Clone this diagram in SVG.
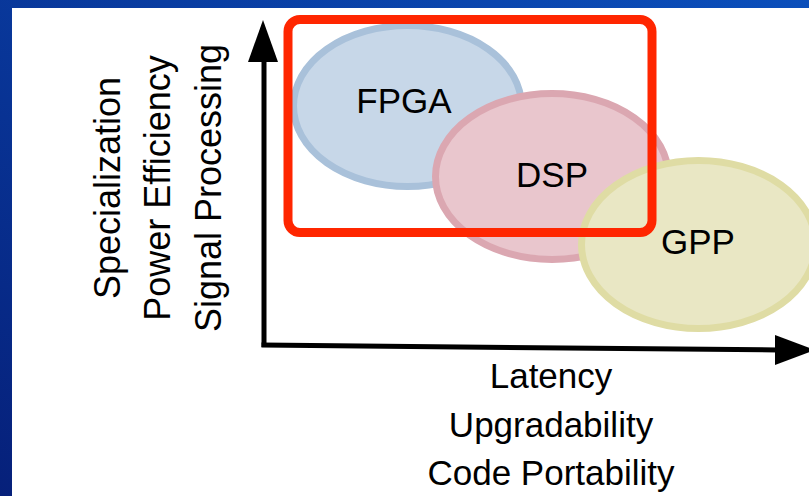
<svg xmlns="http://www.w3.org/2000/svg" width="809" height="496" viewBox="0 0 809 496">
  <defs>
    <linearGradient id="bg" x1="1" y1="0" x2="0" y2="1">
      <stop offset="0" stop-color="#0b4fbb"/>
      <stop offset="1" stop-color="#06207a"/>
    </linearGradient>
    <style>
      .lbl { font-family: "Liberation Sans", Arial, sans-serif; font-size: 35px; fill: #000; text-anchor: middle; }
      .vlbl { font-family: "Liberation Sans", Arial, sans-serif; font-size: 36px; fill: #000; text-anchor: middle; }
      .axis { stroke: #000; stroke-width: 5; fill: none; }
    </style>
  </defs>
  <rect x="0" y="0" width="809" height="496" fill="url(#bg)"/>
  <rect x="12" y="8" width="797" height="488" fill="#ffffff"/>

  <g id="connectors">
    <line class="axis" x1="264" y1="347" x2="264" y2="58"/>
    <polygon points="263,20 278,62 248,62" fill="#000"/>
    <line class="axis" x1="261.5" y1="345" x2="778" y2="350"/>
    <polygon points="815,350 775,335 775,365" fill="#000"/>
  </g>

  <g id="fpga">
    <ellipse cx="407.5" cy="106" rx="114" ry="80.5" fill="#c7d7e8" stroke="#a9c1da" stroke-width="7"/>
    <text class="lbl" x="404" y="113">FPGA</text>
  </g>
  <g id="dsp">
    <ellipse cx="552" cy="176.5" rx="116.5" ry="83" fill="#e9c6cd" stroke="#dba7b1" stroke-width="7"/>
    <text class="lbl" x="552" y="187">DSP</text>
  </g>
  <g id="gpp">
    <ellipse cx="698.5" cy="244.5" rx="117" ry="84" fill="#e9e7c4" stroke="#dfdca4" stroke-width="7"/>
    <text class="lbl" x="698" y="254">GPP</text>
  </g>

  <g id="highlight">
    <rect x="288" y="19.5" width="364" height="213" rx="12" ry="12" fill="none" stroke="#ff2600" stroke-width="9"/>
  </g>

  <g id="y-labels">
    <text class="vlbl" transform="translate(120,188) rotate(-90)">Specialization</text>
    <text class="vlbl" transform="translate(170,188) rotate(-90)">Power Efficiency</text>
    <text class="vlbl" transform="translate(221,188) rotate(-90)">Signal Processing</text>
  </g>
  <g id="x-labels">
    <text class="lbl" x="551" y="388">Latency</text>
    <text class="lbl" x="551" y="437">Upgradability</text>
    <text class="lbl" x="551" y="485">Code Portability</text>
  </g>
</svg>
